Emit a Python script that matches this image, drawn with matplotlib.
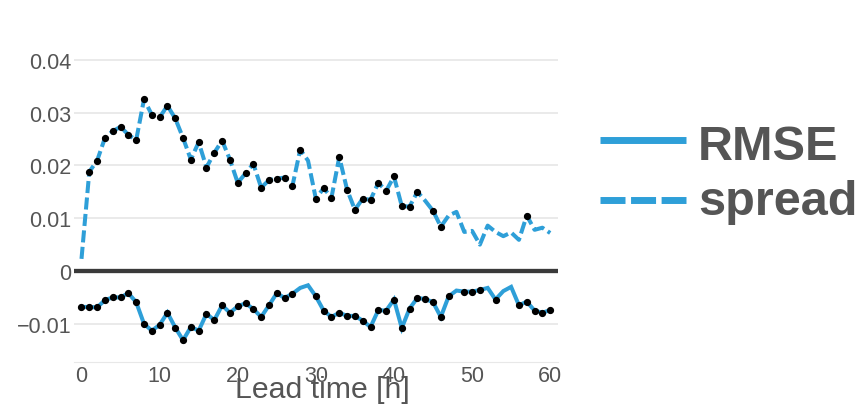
import numpy as np
import matplotlib
matplotlib.use('Agg')
from matplotlib import pyplot as plt
from matplotlib.lines import Line2D

plt.rcParams['font.family'] = ['Liberation Sans', 'DejaVu Sans']

# lead time in hours
hours = list(range(61))

spread = [0.0023, 0.0188, 0.0209, 0.0252, 0.0265, 0.0273, 0.0258, 0.0248, 0.0325, 0.0296,
          0.0291, 0.0313, 0.0289, 0.0252, 0.0211, 0.0244, 0.0196, 0.0224, 0.0247, 0.0211,
          0.0167, 0.0185, 0.0203, 0.0158, 0.0172, 0.0175, 0.0177, 0.0161, 0.0230, 0.0209,
          0.0137, 0.0157, 0.0139, 0.0216, 0.0154, 0.0116, 0.0137, 0.0135, 0.0167, 0.0152,
          0.0179, 0.0123, 0.0122, 0.0150, 0.0133, 0.0114, 0.0084, 0.0105, 0.0112, 0.0074,
          0.0076, 0.0050, 0.0086, 0.0074, 0.0066, 0.0073, 0.0059, 0.0105, 0.0078, 0.0082,
          0.0072]

rmse = [-0.0068, -0.0068, -0.0069, -0.0055, -0.0050, -0.0050, -0.0042, -0.0059, -0.0100, -0.0113,
        -0.0102, -0.0079, -0.0107, -0.0131, -0.0106, -0.0113, -0.0081, -0.0093, -0.0065, -0.0079,
        -0.0067, -0.0061, -0.0072, -0.0087, -0.0065, -0.0042, -0.0051, -0.0043, -0.0032, -0.0027,
        -0.0048, -0.0075, -0.0087, -0.0079, -0.0085, -0.0085, -0.0094, -0.0106, -0.0074, -0.0075,
        -0.0054, -0.0108, -0.0071, -0.0051, -0.0053, -0.0059, -0.0087, -0.0048, -0.0037, -0.0039,
        -0.0039, -0.0036, -0.0032, -0.0054, -0.0038, -0.0030, -0.0065, -0.0058, -0.0075, -0.0079,
        -0.0074]

# hours marked with a dot
spread_dots = list(range(1, 29)) + list(range(30, 44)) + [45, 46, 57]
rmse_dots = [h for h in hours if h not in (28, 29, 48, 52, 54, 55)]

yticks = [-0.01, 0, 0.01, 0.02, 0.03, 0.04]
ytick_labels = ['\u22120.01', '0', '0.01', '0.02', '0.03', '0.04']
xticks = [0, 10, 20, 30, 40, 50, 60]

blue = '#2e9fd8'
grey = '#555555'

fig = plt.figure(figsize=(8.61, 4.06), dpi=100)
W, H = 861, 406
ax = fig.add_axes([74 / W, 1 - 363 / H, (558 - 74) / W, (363 - 43) / H])

ax.plot(hours, spread, color=blue, lw=2.9, dashes=(3, 1.1), zorder=3)
ax.plot(hours, rmse, color=blue, lw=2.9, zorder=3, solid_joinstyle='miter')
ax.plot(spread_dots, [spread[h] for h in spread_dots], 'o', color='black', ms=4.2, zorder=4)
ax.plot(rmse_dots, [rmse[h] for h in rmse_dots], 'o', color='black', ms=4.2, zorder=4)

ax.axhline(0, color='#3a3a3a', lw=3.1, zorder=2)

ax.set_xlim(-0.96, 61.0)
ax.set_ylim(-0.01723, 0.04337)
ax.set_xticks(xticks)
ax.set_yticks(yticks)
ax.set_yticklabels(ytick_labels)
ax.grid(axis='y', color='#e4e4e4', lw=1.1, zorder=1)
for s in ['top', 'right', 'left']:
    ax.spines[s].set_visible(False)
ax.spines['bottom'].set_color('#e8e8e8')
ax.spines['bottom'].set_linewidth(0.8)
ax.tick_params(length=0, labelsize=15.5, labelcolor=grey, pad=2)

fig.text(322 / W, 1 - 398 / H, 'Lead time [h]', fontsize=21.8, color=grey,
         ha='center', va='baseline')

# legend drawn by hand on the right
fig.add_artist(Line2D([600 / W, 686 / W], [1 - 140.7 / H] * 2, color=blue, lw=5.0,
                      solid_capstyle='butt'))
fig.add_artist(Line2D([600 / W, 686 / W], [1 - 200.7 / H] * 2, color=blue, lw=5.0,
                      dashes=(3.6, 0.8), dash_capstyle='butt'))
fig.text(698 / W, 1 - 160 / H, 'RMSE', fontsize=35, fontweight='bold', color=grey,
         ha='left', va='baseline')
fig.text(698 / W, 1 - 215 / H, 'spread', fontsize=35, fontweight='bold', color=grey,
         ha='left', va='baseline')

fig.savefig('out.png', dpi=100)
